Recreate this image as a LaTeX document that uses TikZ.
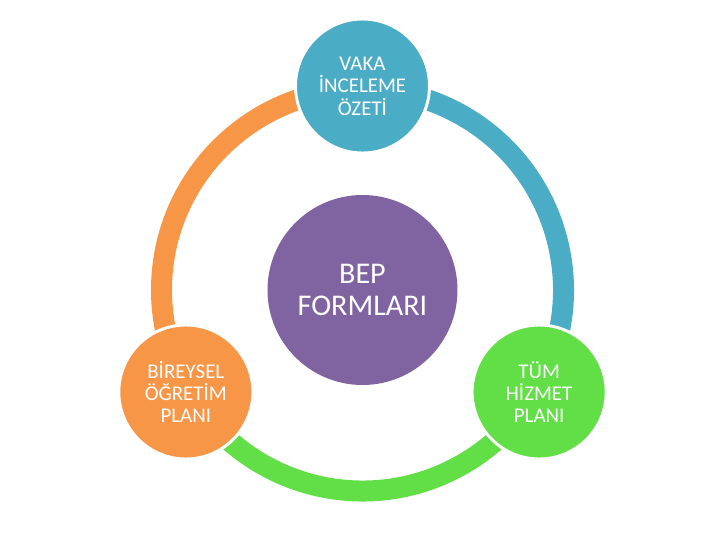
\documentclass[tikz,border=0pt]{standalone}
\usepackage{fontspec}
\setmainfont{Carlito}
\usepackage{tikz}
\usetikzlibrary{calc}
\definecolor{bepblue}{HTML}{4BACC6}
\definecolor{beporange}{HTML}{F79646}
\definecolor{beppurple}{HTML}{8064A2}
\definecolor{bepgreen}{HTML}{62DE46}
\def\ringarc[#1](#2)(#3:#4:#5){\draw[#1] ($(#2)+({#5*cos(#3)},{#5*sin(#3)})$) arc (#3:#4:#5);}
\tikzset{
	planball/.style={circle, draw=white, line width=2.1pt, inner sep=0pt, minimum size=3.35cm,
		text=white, align=center, font=\fontsize{14.9pt}{15.9pt}\selectfont},
	bepball/.style={circle, fill=beppurple, inner sep=0pt, minimum size=4.75cm,
		text=white, align=center, font=\fontsize{21.4pt}{22.7pt}\selectfont}
}

\begin{document}
\begin{tikzpicture}
		%%%%% START %%%%%
		
		\useasboundingbox (-9.0625, -6.25) rectangle (8.9375, 7.25);
		\coordinate (mid) at (0, 0);
		
		\ringarc[line width=0.525cm, color=beporange](mid)(90:210:5.025);
		\ringarc[line width=0.525cm, color=bepgreen](mid)(210:330:5.025);
		\ringarc[line width=0.525cm, color=bepblue](mid)(330:450:5.025);
		
		\node[bepball] (bep) at (mid) {BEP\\FORMLARI};
		
		\node[planball, fill=bepblue] (vaka) at (90:5.1) {VAKA\\İNCELEME\\ÖZETİ};
		\node[planball, fill=beporange] (bireysel) at (210:5.1) {BİREYSEL\\ÖĞRETİM\\PLANI};
		\node[planball, fill=bepgreen] (tum) at (330:5.1) {TÜM\\HİZMET\\PLANI};
		
		%%%%% END %%%%%
	\end{tikzpicture}
\end{document}
